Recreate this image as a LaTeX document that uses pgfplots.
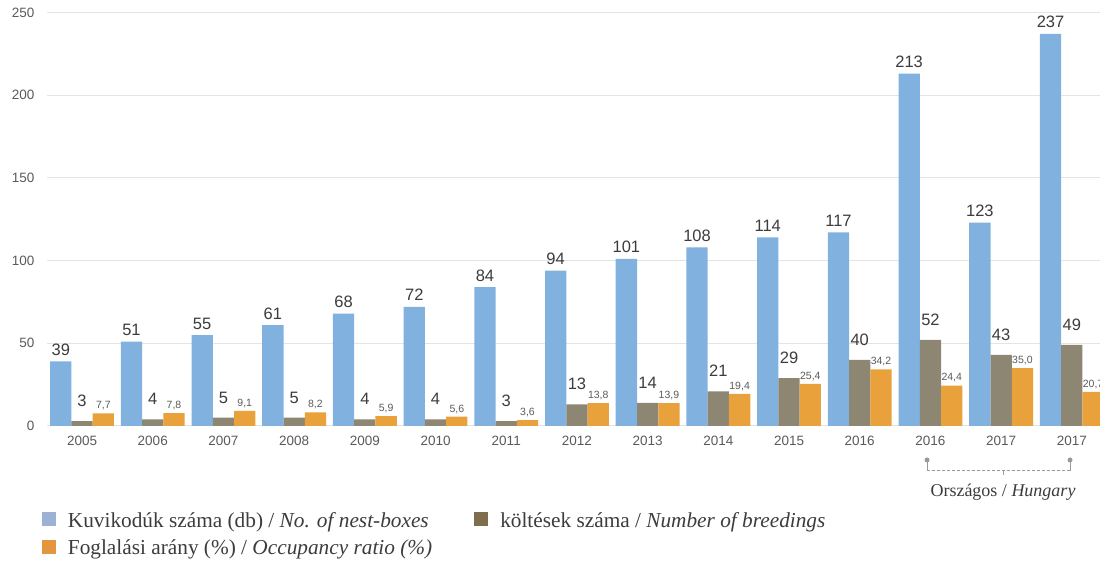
\documentclass[border=0pt]{standalone}
\usepackage{fontspec}
\setmainfont{Liberation Serif}
\newfontfamily\sansf{Liberation Sans}
\usepackage{pgfplots}
\usepackage{pgfplotstable}
\pgfplotsset{compat=1.18}

\definecolor{cblue}{HTML}{80B1DF}
\definecolor{cgrey}{HTML}{8C8673}
\definecolor{corange}{HTML}{E9A23B}
\definecolor{lblue}{HTML}{9DB1D5}
\definecolor{lbrown}{HTML}{7F6E4E}
\definecolor{lorange}{HTML}{E4953F}
\definecolor{gridc}{HTML}{E4E4E4}
\definecolor{txt}{HTML}{3C3C3C}
\definecolor{tickc}{HTML}{5A5A5A}
\definecolor{annot}{HTML}{9A9A9A}

% x = position, boxes = no. of nest-boxes, breed = breedings, occ = occupancy (%)
\pgfplotstableread{
x  boxes breed occ
0  39    3     7.7
1  51    4     7.8
2  55    5     9.1
3  61    5     8.2
4  68    4     5.9
5  72    4     5.6
6  84    3     3.6
7  94    13    13.8
8  101   14    13.9
9  108   21    19.4
10 114   29    25.4
11 117   40    34.2
12 213   52    24.4
13 123   43    35.0
14 237   49    20.7
}\data

\begin{document}
\begin{tikzpicture}
\begin{axis}[
  at={(46.7pt,135pt)}, anchor=south west,
  scale only axis, width=1060.5pt, height=413.5pt,
  xmin=-0.5, xmax=14.5, ymin=0, ymax=250,
  ytick={0,50,...,250},
  xtick={0,...,14},
  xticklabels={2005,2006,2007,2008,2009,2010,2011,2012,2013,2014,2015,2016,2016,2017,2017},
  ymajorgrids, grid style={gridc, line width=1pt},
  axis line style={draw=none},
  major tick length=0pt,
  tick label style={font=\sansf\fontsize{13.5}{13.5}\selectfont, text=tickc},
  /pgf/number format/assume math mode=true,
  yticklabel style={anchor=east, inner sep=0pt, xshift=-12pt},
  xticklabel style={anchor=north, inner sep=0pt, yshift=-10pt},
  ybar, bar width=0.301,
  legend columns=2,
  legend cell align=left,
  legend style={at={(axis description cs:-0.0047,-0.207)}, anchor=north west,
    draw=none, fill=none, inner sep=0pt, nodes={inner sep=0pt},
    font=\fontsize{21.3}{24}\selectfont, text=txt, row sep=11pt,
    /tikz/every odd column/.append style={column sep=12pt},
    /tikz/every even column/.append style={column sep=42pt}},
  legend image code/.code={\fill[#1, draw=none] (0pt,-5.5pt) rectangle (14pt,8.5pt);},
]
\addplot[forget plot, fill=cblue, draw=none, bar shift=-0.301,
  nodes near coords,
  every node near coord/.append style={font=\sansf\fontsize{16.5}{16.5}\selectfont,
    text=txt, anchor=base, inner sep=0pt, yshift=6pt}]
  table[x=x, y=boxes] {\data};
\addplot[forget plot, fill=cgrey, draw=none, bar shift=0,
  nodes near coords,
  every node near coord/.append style={font=\sansf\fontsize{16.5}{16.5}\selectfont,
    text=txt, anchor=base, inner sep=0pt, yshift=14.5pt}]
  table[x=x, y=breed] {\data};
\addplot[forget plot, fill=corange, draw=none, bar shift=0.301,
  nodes near coords={\pgfmathprintnumber[fixed,fixed zerofill,precision=1,use comma]{\pgfplotspointmeta}},
  every node near coord/.append style={font=\sansf\fontsize{10.5}{10.5}\selectfont,
    text=tickc, anchor=base, inner sep=0pt, yshift=4.7pt}]
  table[x=x, y=occ] {\data};

\addlegendimage{fill=lblue, draw=none}
\addlegendentry{Kuvikodúk száma (db) / \textit{No. of nest-boxes}}
\addlegendimage{fill=lbrown, draw=none}
\addlegendentry{költések száma / \textit{Number of breedings}}
\addlegendimage{fill=lorange, draw=none}
\addlegendentry{Foglalási arány (\%) / \textit{Occupancy ratio (\%)}}
\end{axis}

% bracket under the national (Hungary) columns
\fill[annot] (927pt,101pt) circle (2.5pt);
\fill[annot] (1070pt,101pt) circle (2.5pt);
\draw[annot, line width=0.8pt] (927pt,101pt) -- (927pt,90.3pt);
\draw[annot, line width=0.8pt] (1070pt,101pt) -- (1070pt,90.3pt);
\draw[annot, line width=0.8pt, dash pattern=on 3pt off 2pt] (927pt,90.3pt) -- (1070pt,90.3pt);
\draw[annot, line width=0.8pt] (1003pt,90.3pt) -- (1003pt,86pt);
\node[text=txt, font=\fontsize{18}{18}\selectfont, inner sep=0pt] at (1003pt,69pt)
  {Országos / \textit{Hungary}};

\pgfresetboundingbox
\path[use as bounding box] (0pt,0pt) rectangle (1100pt,561pt);
\end{tikzpicture}
\end{document}
